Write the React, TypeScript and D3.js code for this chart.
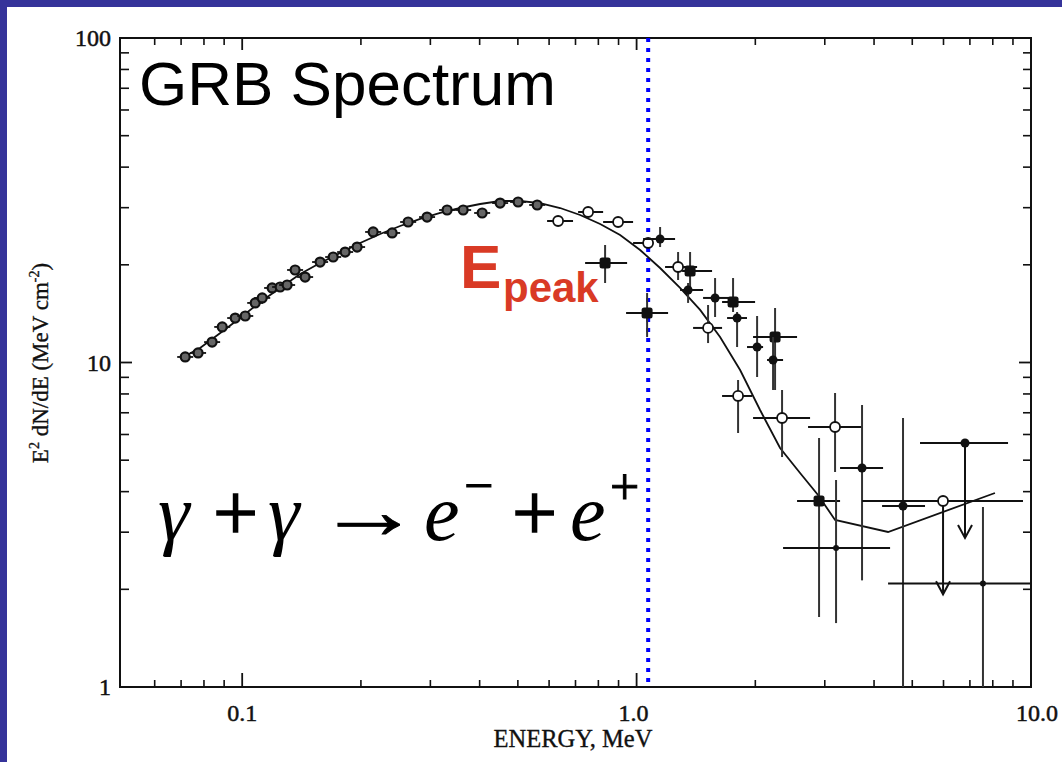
import React from "react";
import * as d3 from "d3";

// ---- data ----
const xTickMajor = [0.1, 1, 10];
const xTickLabels = ["0.1", "1.0", "10.0"];
const xTickMinor = [0.06, 0.07, 0.08, 0.09, 0.2, 0.3, 0.4, 0.5, 0.6, 0.7, 0.8, 0.9, 2, 3, 4, 5, 6, 7, 8, 9];
const yTickMajor = [1, 10, 100];
const yTickLabels = ["1", "10", "100"];
const yTickMinor = [2, 3, 4, 5, 6, 7, 8, 9, 20, 30, 40, 50, 60, 70, 80, 90];

const peakE = 1.07;

// model curve
const curveE = [0.0709, 0.0782, 0.088, 0.0988, 0.1111, 0.1248, 0.1403, 0.1576, 0.1772, 0.1991, 0.2238, 0.2515, 0.2827, 0.3177, 0.357, 0.4012, 0.4508, 0.5067, 0.5693, 0.6399, 0.7191, 0.8083, 0.9082, 1.0207, 1.147, 1.289, 1.449, 1.628, 1.83, 2.056, 2.311, 2.597, 2.884, 3.186, 4.341, 8.102];
const curveF = [10.4, 11.08, 12.33, 13.71, 15.37, 16.97, 18.74, 20.26, 21.75, 23.35, 24.89, 26.34, 27.69, 28.89, 29.93, 30.79, 31.45, 31.45, 31.0, 29.93, 28.48, 26.72, 24.72, 22.22, 19.55, 16.97, 14.52, 11.98, 9.482, 7.138, 5.451, 4.565, 3.906, 3.271, 3.004, 3.961];

// low-energy dense data points
const lowE = [0.0717, 0.0773, 0.0839, 0.089, 0.096, 0.1018, 0.1079, 0.1124, 0.1191, 0.1248, 0.13, 0.1362, 0.1444, 0.1576, 0.1701, 0.1824, 0.1956, 0.2148, 0.24, 0.2635, 0.2943, 0.3308, 0.3633, 0.4059, 0.4508, 0.5007, 0.5597];
const lowF = [10.4, 10.7, 11.56, 12.87, 13.71, 13.91, 15.26, 15.81, 16.97, 17.09, 17.33, 19.28, 18.34, 20.4, 21.14, 21.9, 22.69, 25.25, 25.07, 27.1, 28.07, 29.51, 29.51, 28.89, 31.0, 31.23, 30.58];

// higher-energy points with error bars
const ptE = [0.6324, 0.7535, 0.8976, 1.0695, 1.1471, 0.832, 1.0632, 1.2741, 1.3665, 1.3507, 1.5812, 1.7563, 1.5178, 1.798, 2.0208, 2.2444, 2.2182, 1.8085, 2.3379, 3.1857, 3.7291, 2.9015, 3.2042, 4.7371, 5.984, 6.8029, 7.5544];
const ptF = [27.29, 29.09, 27.1, 23.35, 24.02, 20.26, 14.21, 19.69, 19.14, 16.73, 15.81, 15.37, 12.78, 13.71, 11.16, 11.98, 10.18, 7.886, 6.745, 6.327, 4.731, 3.743, 2.682, 3.613, 3.743, 5.648, 2.086];
const ptElo = [0.593, 0.7107, 0.8225, 0.9797, 1.0387, 0.7404, 0.9405, 1.1809, 1.3042, 1.2891, 1.4742, 1.6471, 1.3907, 1.696, 1.9055, 1.9739, 2.1419, 1.6471, 1.9739, 2.721, 3.28, 2.5518, 2.3517, 4.1919, 3.7291, 5.2314, 4.3412];
const ptEhi = [0.69, 0.8225, 0.9797, 1.1012, 1.2519, 0.9461, 1.2018, 1.4235, 1.5537, 1.4742, 1.7258, 1.9972, 1.6471, 1.9055, 2.0927, 2.5518, 2.3517, 1.9626, 2.7531, 3.7291, 4.2162, 3.28, 4.3923, 5.3866, 9.5431, 8.7456, 10.0];
const ptFlo: (number | null)[] = [null, null, null, null, 22.69, 17.58, 11.98, 17.96, 16.73, 15.26, 13.81, 14.31, 11.48, 11.16, 9.022, 8.228, 8.228, 6.064, 5.113, 4.598, 2.131, 1.643, 1.574, 1.0, 1.93, 2.879, 1.0];
const ptFhi: (number | null)[] = [null, null, null, null, 26.16, 23.02, 16.38, 21.9, 21.9, 17.58, 18.21, 18.21, 15.04, 14.31, 13.91, 14.72, 11.98, 8.833, 8.228, 8.055, 7.396, 5.853, 4.345, 6.745, null, null, 3.587];
const ptKind = ["open", "open", "open", "open", "filled", "big", "big", "open", "big", "filled", "filled", "big", "open", "filled", "filled", "big", "filled", "open", "open", "open", "filled", "big", "small", "filled", "open", "filled", "small"];
const ptLimit = [false, false, false, false, false, false, false, false, false, false, false, false, false, false, false, false, false, false, false, false, false, false, false, false, true, true, false];

const W = 1062;
const H = 762;
const L = 120, R = 1031, T = 38, B = 687;

export default function App() {
  const x = d3.scaleLog().domain([0.049, 10]).range([L, R]);
  const y = d3.scaleLog().domain([1, 100]).range([B, T]);
  const line = d3
    .line<number>()
    .x((_, i) => x(curveE[i]))
    .y((_, i) => y(curveF[i]));
  const serif = "'Liberation Serif', 'DejaVu Serif', serif";
  const sans = "'Liberation Sans', Arial, sans-serif";
  const red = "#d93a25";

  return (
    <svg width={W} height={H} style={{ position: "absolute", left: 0, top: 0 }} xmlns="http://www.w3.org/2000/svg">
      <rect x={0} y={0} width={W} height={H} fill="#ffffff" />
      <rect x={0} y={0} width={W} height={7} fill="#35339a" />
      <rect x={0} y={0} width={7} height={H} fill="#35339a" />

      {/* frame */}
      <rect x={L} y={T} width={R - L} height={B - T} fill="none" stroke="#111" strokeWidth={2} />

      {/* x ticks bottom/top */}
      {xTickMajor.map((v) => (
        <g key={"xm" + v}>
          <line x1={x(v)} x2={x(v)} y1={B} y2={B - 14} stroke="#111" strokeWidth={1.8} />
          <line x1={x(v)} x2={x(v)} y1={T} y2={T + 12} stroke="#111" strokeWidth={1.8} />
        </g>
      ))}
      {xTickMinor.map((v) => (
        <g key={"xn" + v}>
          <line x1={x(v)} x2={x(v)} y1={B} y2={B - 7} stroke="#111" strokeWidth={1.6} />
          <line x1={x(v)} x2={x(v)} y1={T} y2={T + 7} stroke="#111" strokeWidth={1.6} />
        </g>
      ))}
      {/* y ticks left/right */}
      {yTickMajor.map((v) => (
        <g key={"ym" + v}>
          <line x1={L} x2={L + 12} y1={y(v)} y2={y(v)} stroke="#111" strokeWidth={1.8} />
          <line x1={R} x2={R - 12} y1={y(v)} y2={y(v)} stroke="#111" strokeWidth={1.8} />
        </g>
      ))}
      {yTickMinor.map((v) => (
        <g key={"yn" + v}>
          <line x1={L} x2={L + 9} y1={y(v)} y2={y(v)} stroke="#111" strokeWidth={1.6} />
          <line x1={R} x2={R - 8} y1={y(v)} y2={y(v)} stroke="#111" strokeWidth={1.6} />
        </g>
      ))}

      {/* tick labels */}
      {xTickMajor.map((v, i) => (
        <text key={"xl" + v} x={x(v) + (i === 0 ? 0 : i === 1 ? -3 : 6)} y={721} textAnchor="middle" fontFamily={serif} fontSize={24} fill="#111" stroke="#111" strokeWidth={0.5}>
          {xTickLabels[i]}
        </text>
      ))}
      {yTickMajor.map((v, i) => (
        <text key={"yl" + v} x={111} y={y(v) + 8} textAnchor="end" fontFamily={serif} fontSize={24} fill="#111" stroke="#111" strokeWidth={0.5}>
          {yTickLabels[i]}
        </text>
      ))}

      {/* axis titles */}
      <text x={573} y={747} textAnchor="middle" fontFamily={serif} fontSize={24.5} fill="#111" stroke="#111" strokeWidth={0.35}>
        ENERGY, MeV
      </text>
      <text transform="translate(48,363) rotate(-90)" textAnchor="middle" fontFamily={serif} fontSize={23} fill="#111" stroke="#111" strokeWidth={0.35}>
        <tspan>E</tspan>
        <tspan dy={-9} fontSize={14}>2</tspan>
        <tspan dy={9}> dN/dE (MeV cm</tspan>
        <tspan dy={-9} fontSize={14}>-2</tspan>
        <tspan dy={9}>)</tspan>
      </text>

      {/* peak line */}
      <line x1={x(peakE)} x2={x(peakE)} y1={T} y2={B} stroke="#0000ff" strokeWidth={4} strokeDasharray="4 6" />

      {/* model curve */}
      <path d={line(curveE) || ""} fill="none" stroke="#111" strokeWidth={1.8} />

      {/* low energy points */}
      {lowE.map((e, i) => (
        <g key={"lo" + i}>
          <line x1={x(e) - 8} x2={x(e) + 8} y1={y(lowF[i])} y2={y(lowF[i])} stroke="#111" strokeWidth={1.8} />
          <circle cx={x(e)} cy={y(lowF[i])} r={4.5} fill="#666" stroke="#111" strokeWidth={2.2} />
        </g>
      ))}

      {/* high energy points */}
      {ptE.map((e, i) => {
        const cx = x(e);
        const cy = y(ptF[i]);
        const k = ptKind[i];
        const lo = ptFlo[i];
        const hi = ptFhi[i];
        return (
          <g key={"pt" + i}>
            <line x1={x(ptElo[i])} x2={x(ptEhi[i])} y1={cy} y2={cy} stroke="#111" strokeWidth={2} />
            {lo !== null && !ptLimit[i] && (
              <line x1={cx} x2={cx} y1={y(lo)} y2={y(hi as number)} stroke="#333" strokeWidth={2} />
            )}
            {ptLimit[i] && lo !== null && (
              <g stroke="#111" strokeWidth={2} fill="none">
                <line x1={cx} x2={cx} y1={cy} y2={y(lo)} />
                <polyline points={`${cx - 7},${y(lo) - 13} ${cx},${y(lo)} ${cx + 7},${y(lo) - 13}`} />
              </g>
            )}
            {k === "open" && <circle cx={cx} cy={cy} r={5} fill="#fff" stroke="#111" strokeWidth={1.8} />}
            {k === "filled" && <circle cx={cx} cy={cy} r={4.5} fill="#111" />}
            {k === "big" && <rect x={cx - 5.5} y={cy - 5.5} width={11} height={11} rx={2.5} fill="#111" />}
            {k === "small" && <circle cx={cx} cy={cy} r={3} fill="#111" />}
          </g>
        );
      })}

      {/* annotations */}
      <text x={139} y={105} fontFamily={sans} fontSize={62} fill="#000">
        GRB Spectrum
      </text>
      <text x={460} y={288} fontFamily={sans} fontWeight="bold" fontSize={62} fill={red}>
        E
      </text>
      <text x={503} y={302} fontFamily={sans} fontWeight="bold" fontSize={42} fill={red}>
        peak
      </text>

      <g fontFamily={serif} fill="#000">
        <text x={158} y={540} fontSize={80} fontStyle="italic">γ</text>
        <text x={213} y={540} fontSize={80} stroke="#000" strokeWidth={1.5}>+</text>
        <text x={268} y={540} fontSize={80} fontStyle="italic">γ</text>
        <text transform="translate(317,538) scale(1.3,1)" fontSize={80} stroke="#000" strokeWidth={0.8}>→</text>
        <text x={424} y={540} fontSize={80} fontStyle="italic">e</text>
        <text x={464} y={503} fontSize={52} stroke="#000" strokeWidth={1}>−</text>
        <text x={512} y={540} fontSize={80} stroke="#000" strokeWidth={1.5}>+</text>
        <text x={570} y={540} fontSize={80} fontStyle="italic">e</text>
        <text x={610} y={504} fontSize={52} stroke="#000" strokeWidth={1}>+</text>
      </g>
    </svg>
  );
}
